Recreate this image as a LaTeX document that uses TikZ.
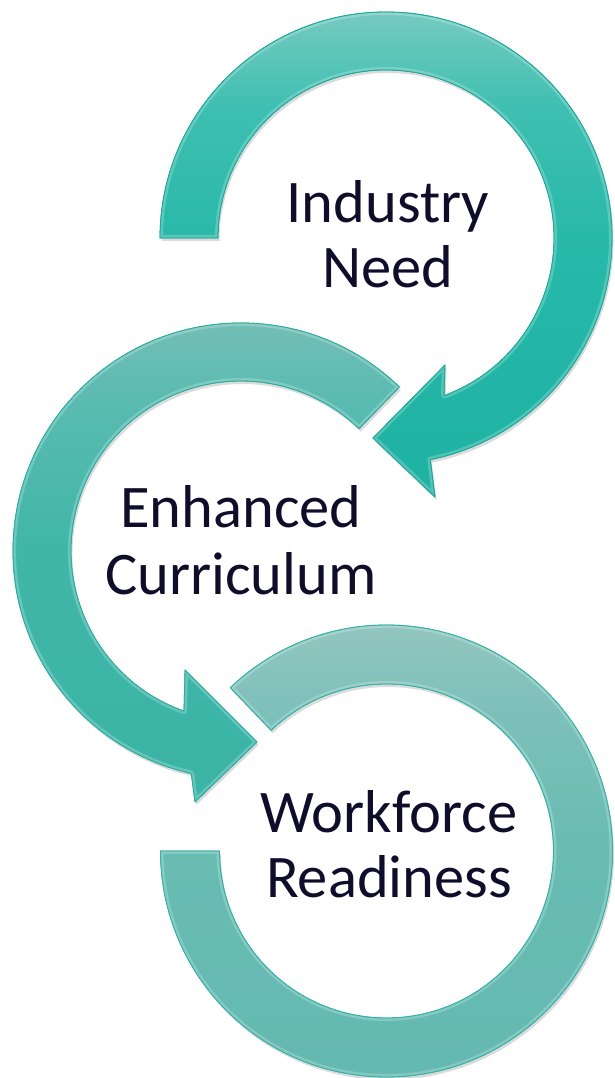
\documentclass[tikz,border=0pt]{standalone}
\usepackage{fontspec}
\setmainfont{Carlito}
\usetikzlibrary{calc,shadows}
\definecolor{txt}{RGB}{14,14,42}
\definecolor{aTop}{RGB}{118,202,192}
\definecolor{aHi}{RGB}{62,191,177}
\definecolor{aMid}{RGB}{38,184,168}
\definecolor{aBot}{RGB}{30,178,163}
\definecolor{aLine}{RGB}{28,168,154}
\definecolor{bTop}{RGB}{122,191,183}
\definecolor{bHi}{RGB}{90,187,177}
\definecolor{bMid}{RGB}{64,182,168}
\definecolor{bBot}{RGB}{58,180,166}
\definecolor{bLine}{RGB}{42,172,159}
\definecolor{cTop}{RGB}{146,197,192}
\definecolor{cHi}{RGB}{124,192,185}
\definecolor{cMid}{RGB}{104,188,178}
\definecolor{cBot}{RGB}{100,185,176}
\definecolor{cLine}{RGB}{48,178,165}
\pgfdeclareverticalshading{shA}{100bp}{color(0bp)=(aBot); color(25bp)=(aBot); color(50bp)=(aMid); color(65bp)=(aHi); color(75bp)=(aTop); color(100bp)=(aTop)}
\pgfdeclareverticalshading{shB}{100bp}{color(0bp)=(bBot); color(25bp)=(bBot); color(50bp)=(bMid); color(65bp)=(bHi); color(75bp)=(bTop); color(100bp)=(bTop)}
\pgfdeclareverticalshading{shC}{100bp}{color(0bp)=(cBot); color(25bp)=(cBot); color(50bp)=(cMid); color(65bp)=(cHi); color(75bp)=(cTop); color(100bp)=(cTop)}
\newcommand\ringCpath{($(C3)+(180:226)$) arc[start angle=180,end angle=493.7,radius=226]
  -- ($(C3)+(493.7:167)$) arc[start angle=493.7,end angle=180,radius=167] -- cycle}
\newcommand\arrowBpath{($(C2)+(46:228)$) arc[start angle=46,end angle=257.4,radius=228]
  -- (195,276) -- (257,336) -- (185,408) -- ($(C2)+(250.4:170)$)
  arc[start angle=250.4,end angle=46,radius=170] -- cycle}
\newcommand\arrowApath{($(C1)+(180:226)$) arc[start angle=180,end angle=-78.7,radius=226]
  -- (435,581) -- (373,640) -- (445,713) -- ($(C1)+(-69.8:168)$)
  arc[start angle=-69.8,end angle=180,radius=168] -- cycle}
\begin{document}
\begin{tikzpicture}[x=1pt,y=1pt,
  band/.style 2 args={shading=#1, draw=#2, line width=0.8pt, line join=round,
    drop shadow={shadow xshift=1.5pt, shadow yshift=-3pt, opacity=0.14, fill=black}},
  rim/.style={draw=white, opacity=0.22, line width=6pt, line join=round},
  lbl/.style={anchor=base, font=\fontsize{60.5}{65}\selectfont, text=txt, inner sep=0pt}]
\useasboundingbox (0,0) rectangle (615,1078);
\fill[white] (0,0) rectangle (615,1078);
\coordinate (C1) at (386,840);
\coordinate (C2) at (241,527);
\coordinate (C3) at (386.5,227);

% Workforce Readiness ring
\path[band={shC}{cLine}] \ringCpath;
\begin{scope}\clip \ringCpath; \path[rim] \ringCpath; \end{scope}
\path[draw=cLine, line width=0.8pt, line join=round] \ringCpath;

% Enhanced Curriculum arrow
\path[band={shB}{bLine}] \arrowBpath;
\begin{scope}\clip \arrowBpath; \path[rim] \arrowBpath; \end{scope}
\path[draw=bLine, line width=0.8pt, line join=round] \arrowBpath;

% Industry Need arrow
\path[band={shA}{aLine}] \arrowApath;
\begin{scope}\clip \arrowApath; \path[rim] \arrowApath; \end{scope}
\path[draw=aLine, line width=0.8pt, line join=round] \arrowApath;

\node[lbl] (t1a) at (388,855) {Industry};
\node[lbl] (t1b) at (388,790) {Need};
\node[lbl] (t2a) at (241,550) {Enhanced};
\node[lbl] (t2b) at (241,483) {Curriculum};
\node[lbl] (t3a) at (389,245) {Workforce};
\node[lbl] (t3b) at (389,180) {Readiness};
\end{tikzpicture}
\end{document}
